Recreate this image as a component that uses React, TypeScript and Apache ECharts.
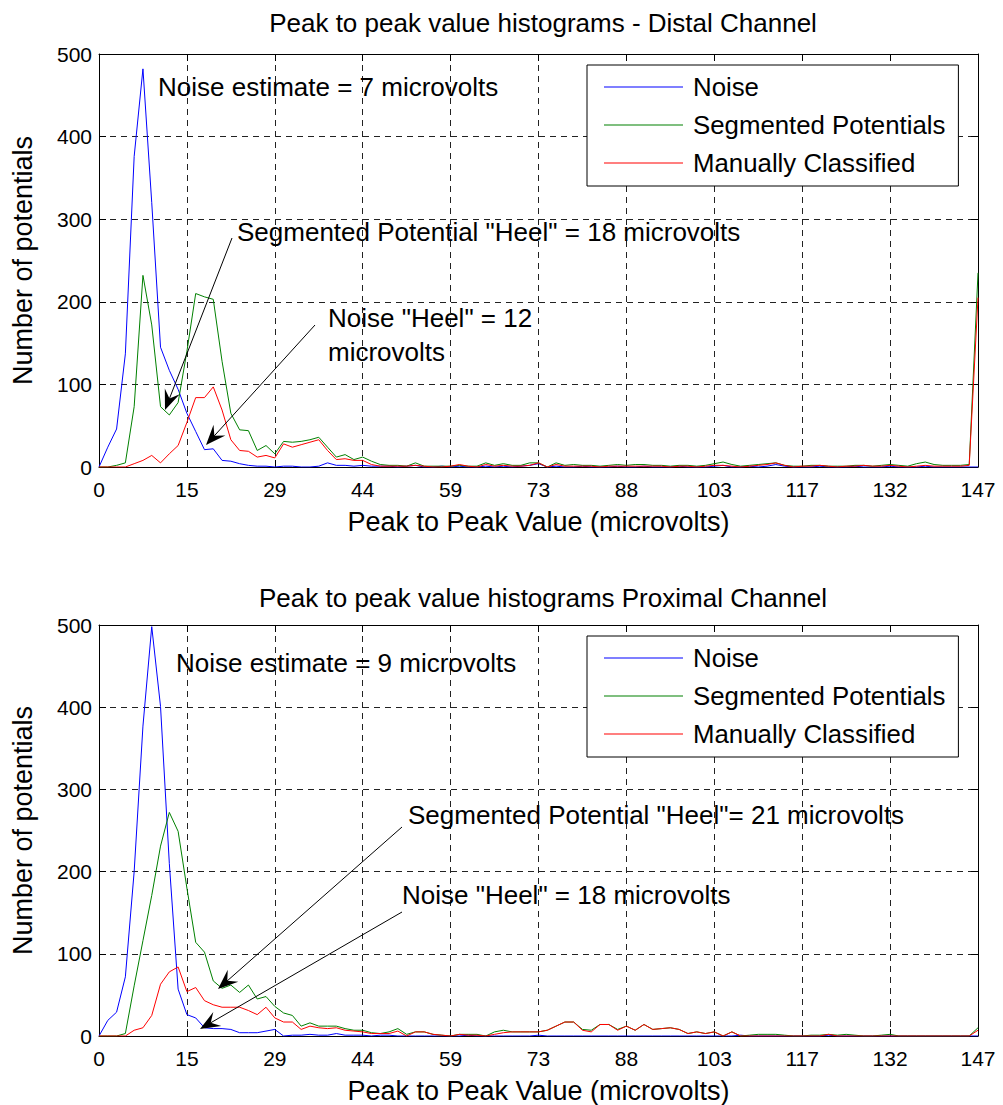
import React, { useEffect, useRef } from "react";
import * as echarts from "echarts";

const xTickLabels = ["0", "15", "29", "44", "59", "73", "88", "103", "117", "132", "147"];
const seriesNames = ["Noise", "Segmented Potentials", "Manually Classified"];

const noiseDistal = [
  0, 24, 46, 137, 376, 482, 320, 145, 117, 94,
  65, 43, 21, 22, 8, 7, 4, 2, 1, 1,
  0, 1, 1, 0, 0, 1, 5, 2, 2, 1,
  2, 1, 1, 1, 0, 1, 2, 0, 0, 1,
  0, 1, 0, 0, 1, 0, 1, 0, 1, 2,
  4, 0, 1, 0, 0, 1, 0, 0, 0, 1,
  0, 0, 1, 0, 0, 0, 1, 0, 0, 0,
  1, 2, 0, 0, 1, 0, 1, 3, 1, 0,
  0, 0, 1, 0, 0, 0, 1, 0, 0, 0,
  1, 0, 0, 0, 1, 0, 0, 0, 0, 0,
  0,
];
const segDistal = [
  0, 0, 2, 5, 73, 232, 172, 73, 63, 78,
  140, 210, 206, 203, 128, 65, 45, 44, 20, 26,
  16, 31, 30, 31, 33, 36, 24, 12, 15, 9,
  12, 7, 3, 2, 2, 1, 5, 1, 1, 1,
  1, 2, 1, 1, 5, 2, 4, 2, 2, 5,
  5, 0, 5, 2, 3, 2, 2, 1, 2, 3,
  2, 3, 3, 2, 2, 1, 2, 2, 1, 2,
  4, 6, 3, 1, 2, 3, 4, 5, 2, 1,
  1, 2, 2, 1, 1, 1, 2, 2, 1, 2,
  3, 2, 1, 4, 6, 3, 2, 2, 2, 3,
  235,
];
const manualDistal = [
  0, 0, 0, 0, 4, 8, 14, 5, 16, 26,
  54, 84, 84, 97, 69, 33, 20, 19, 12, 14,
  11, 28, 24, 27, 30, 33, 20, 9, 10, 8,
  8, 3, 1, 1, 1, 1, 2, 1, 0, 0,
  1, 3, 1, 0, 3, 1, 2, 1, 1, 2,
  5, 0, 3, 1, 1, 1, 1, 0, 1, 1,
  1, 1, 1, 1, 1, 0, 1, 1, 0, 1,
  2, 2, 1, 0, 1, 2, 3, 5, 2, 0,
  1, 1, 2, 1, 0, 1, 1, 2, 1, 1,
  2, 1, 0, 1, 2, 1, 1, 1, 1, 2,
  205,
];

const noiseProximal = [
  0, 19, 29, 72, 200, 377, 498, 401, 210, 57,
  26, 22, 10, 9, 9, 8, 4, 4, 4, 6,
  8, 0, 1, 1, 2, 1, 1, 3, 1, 1,
  1, 0, 1, 1, 0, 0, 0, 0, 0, 0,
  0, 0, 1, 0, 0, 0, 0, 0, 0, 0,
  1, 0, 0, 0, 0, 0, 0, 0, 0, 0,
  0, 0, 0, 0, 0, 0, 0, 0, 0, 0,
  0, 0, 0, 1, 0, 0, 0, 0, 0, 0,
  0, 0, 0, 1, 0, 0, 0, 0, 0, 0,
  0, 0, 0, 0, 0, 0, 0, 0, 0, 0,
  0,
];
const segProximal = [
  0, 0, 0, 3, 61, 116, 171, 231, 272, 249,
  180, 114, 102, 67, 58, 62, 53, 62, 45, 48,
  36, 28, 25, 12, 16, 12, 12, 12, 9, 7,
  7, 4, 3, 5, 9, 2, 5, 5, 2, 1,
  0, 2, 2, 2, 0, 5, 7, 5, 5, 5,
  5, 7, 12, 17, 17, 8, 7, 14, 14, 8,
  12, 7, 14, 8, 9, 10, 8, 3, 5, 3,
  5, 0, 5, 0, 1, 2, 2, 2, 1, 0,
  0, 1, 1, 2, 1, 2, 1, 0, 0, 1,
  2, 0, 0, 0, 0, 0, 0, 0, 0, 0,
  10,
];
const manualProximal = [
  0, 0, 0, 0, 7, 10, 25, 63, 78, 84,
  54, 59, 43, 38, 35, 35, 35, 31, 26, 35,
  22, 17, 17, 8, 12, 10, 9, 10, 7, 6,
  5, 3, 3, 3, 6, 0, 5, 5, 2, 1,
  0, 2, 1, 1, 0, 2, 4, 5, 5, 5,
  5, 7, 12, 17, 17, 7, 5, 14, 14, 7,
  12, 7, 14, 8, 9, 10, 8, 3, 5, 3,
  5, 0, 5, 0, 0, 0, 0, 0, 0, 0,
  0, 0, 0, 2, 0, 0, 0, 0, 0, 0,
  0, 0, 0, 0, 0, 0, 0, 0, 0, 0,
  7,
];

const FONT = "'Liberation Sans', Arial, Helvetica, sans-serif";
const COLORS = ["#0000ff", "#008000", "#ff0000"];

function arrowGraphics(x0: number, y0: number, x1: number, y1: number) {
  const dx = x0 - x1;
  const dy = y0 - y1;
  const len = Math.sqrt(dx * dx + dy * dy);
  const ux = dx / len;
  const uy = dy / len;
  const vx = -uy;
  const vy = ux;
  const L = 20;
  const W = 16;
  const pts = [
    [x1, y1],
    [x1 + ux * L + (vx * W) / 2, y1 + uy * L + (vy * W) / 2],
    [x1 + ux * L * 0.62, y1 + uy * L * 0.62],
    [x1 + ux * L - (vx * W) / 2, y1 + uy * L - (vy * W) / 2],
  ];
  return [
    {
      type: "line",
      shape: { x1: x0, y1: y0, x2: x1 + ux * L * 0.6, y2: y1 + uy * L * 0.6 },
      style: { stroke: "#000", lineWidth: 1 },
      z: 100,
    },
    {
      type: "polygon",
      shape: { points: pts },
      style: { fill: "#000" },
      z: 100,
    },
  ];
}

function annText(text: string, x: number, y: number) {
  return {
    type: "text",
    x,
    y,
    z: 100,
    style: {
      text,
      fill: "#000",
      font: `26px ${FONT}`,
      textVerticalAlign: "middle",
      verticalAlign: "middle",
    },
  };
}

export default function App() {
  const ref = useRef<HTMLDivElement>(null);
  useEffect(() => {
    if (!ref.current) return;
    const chart = echarts.init(ref.current, null, { renderer: "svg" });
    const gridTops = [54, 625];
    const gridH = 413;

    const xAxes: any[] = [];
    const yAxes: any[] = [];
    const tickStyle = { show: true, inside: true, length: 7, lineStyle: { color: "#000", width: 1 } };
    gridTops.forEach((_, g) => {
      xAxes.push({
        type: "value",
        gridIndex: g,
        min: 0,
        max: 100,
        interval: 10,
        position: "bottom",
        name: "Peak to Peak Value (microvolts)",
        nameLocation: "middle",
        nameGap: 41,
        nameTextStyle: { fontSize: 27, color: "#000", fontFamily: FONT },
        axisLine: { show: true, onZero: false, lineStyle: { color: "#000", width: 1 } },
        axisTick: tickStyle,
        axisLabel: {
          margin: 12,
          fontSize: 21,
          color: "#000",
          fontFamily: FONT,
          formatter: (v: number) => xTickLabels[Math.round(v / 10)],
        },
        splitLine: { show: true, lineStyle: { color: "#222", type: [6, 5], width: 1 } },
      });
      xAxes.push({
        type: "value",
        gridIndex: g,
        min: 0,
        max: 100,
        interval: 10,
        position: "top",
        axisLine: { show: true, onZero: false, lineStyle: { color: "#000", width: 1 } },
        axisTick: tickStyle,
        axisLabel: { show: false },
        splitLine: { show: false },
      });
      yAxes.push({
        type: "value",
        gridIndex: g,
        min: 0,
        max: 500,
        interval: 100,
        position: "left",
        name: "Number of potentials",
        nameLocation: "middle",
        nameGap: 63,
        nameTextStyle: { fontSize: 27, color: "#000", fontFamily: FONT },
        axisLine: { show: true, onZero: false, lineStyle: { color: "#000", width: 1 } },
        axisTick: tickStyle,
        axisLabel: { margin: 7, fontSize: 21, color: "#000", fontFamily: FONT },
        splitLine: { show: true, lineStyle: { color: "#222", type: [6, 5], width: 1 } },
      });
      yAxes.push({
        type: "value",
        gridIndex: g,
        min: 0,
        max: 500,
        interval: 100,
        position: "right",
        axisLine: { show: true, onZero: false, lineStyle: { color: "#000", width: 1 } },
        axisTick: tickStyle,
        axisLabel: { show: false },
        splitLine: { show: false },
      });
    });

    const datasets = [
      [noiseDistal, segDistal, manualDistal],
      [noiseProximal, segProximal, manualProximal],
    ];
    const series: any[] = [];
    datasets.forEach((group, g) => {
      group.forEach((arr, k) => {
        series.push({
          type: "line",
          name: seriesNames[k],
          xAxisIndex: g * 2,
          yAxisIndex: g * 2,
          data: arr.map((v, i) => [i, v]),
          showSymbol: false,
          symbol: "none",
          lineStyle: { color: COLORS[k], width: 1 },
          itemStyle: { color: COLORS[k] },
          clip: true,
          z: 3 + k,
        });
      });
    });

    const legendBase = {
      orient: "vertical",
      left: 587,
      data: seriesNames.map((n, k) => ({ name: n, itemStyle: { color: COLORS[k] } })),
      icon: "rect",
      itemWidth: 79,
      itemHeight: 1.2,
      itemGap: 8,
      selectedMode: false,
      backgroundColor: "#fff",
      borderColor: "#000",
      borderWidth: 1,
      borderRadius: 0,
      padding: [7, 13, 8, 17],
      textStyle: { fontSize: 25.8, color: "#000", fontFamily: FONT, lineHeight: 30, padding: [0, 0, 0, 5] },
      z: 50,
    };

    const graphic: any[] = [
      annText("Noise estimate = 7 microvolts", 158, 87),
      annText('Segmented Potential "Heel" = 18 microvolts', 237, 232),
      annText('Noise "Heel" = 12', 328, 318),
      annText("microvolts", 328, 352),
      ...arrowGraphics(232, 238, 165, 410),
      ...arrowGraphics(315, 325, 206, 445),
      annText("Noise estimate = 9 microvolts", 176, 663),
      annText('Segmented Potential "Heel"= 21 microvolts', 408, 815),
      annText('Noise "Heel" = 18 microvolts', 402, 895),
      ...arrowGraphics(402, 827, 218, 989),
      ...arrowGraphics(402, 912, 200, 1029),
    ];

    chart.setOption({
      animation: false,
      backgroundColor: "#fff",
      title: [
        {
          text: "Peak to peak value histograms - Distal Channel",
          left: 538,
          textAlign: "center",
          top: 5,
          textStyle: { fontSize: 26, fontWeight: "normal", color: "#000", fontFamily: FONT },
        },
        {
          text: "Peak to peak value histograms Proximal Channel",
          left: 538,
          textAlign: "center",
          top: 580,
          textStyle: { fontSize: 26, fontWeight: "normal", color: "#000", fontFamily: FONT },
        },
      ],
      grid: gridTops.map((t) => ({ left: 99, width: 879, top: t, height: gridH, show: false })),
      xAxis: xAxes,
      yAxis: yAxes,
      legend: [
        { ...legendBase, top: 65 },
        { ...legendBase, top: 636 },
      ],
      series,
      graphic,
    });
    return () => chart.dispose();
  }, []);
  return (
    <div
      ref={ref}
      style={{ position: "fixed", left: 0, top: 0, width: 1003, height: 1105, background: "#fff" }}
    />
  );
}
